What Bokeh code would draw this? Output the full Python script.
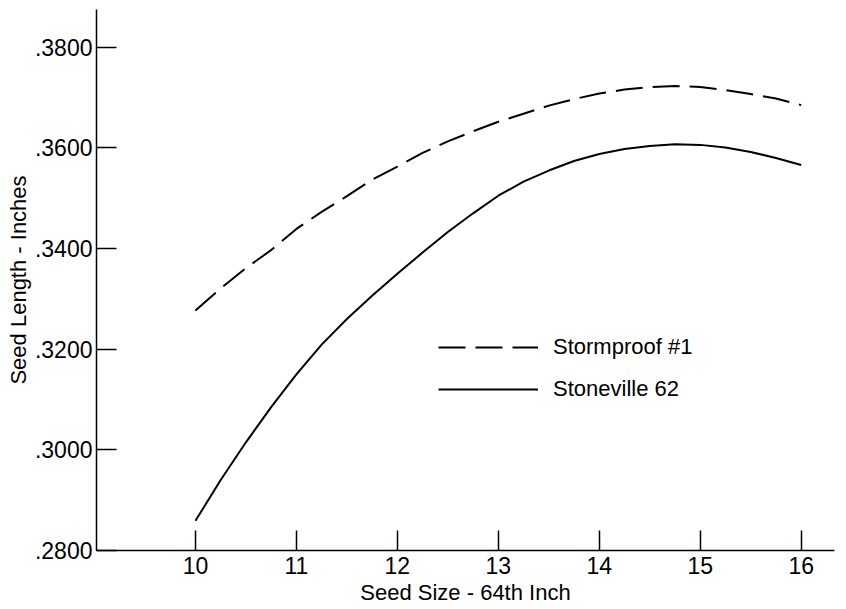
from bokeh.plotting import figure
from bokeh.models import Range1d, FixedTicker, Legend, LegendItem
from bokeh.embed import file_html
from bokeh.resources import INLINE

# Data (seed size in 64ths of an inch, seed length in inches)
seed_size = [10, 10.25, 10.5, 10.75, 11, 11.25, 11.5, 11.75, 12, 12.25, 12.5,
             12.75, 13, 13.25, 13.5, 13.75, 14, 14.25, 14.5, 14.75, 15, 15.25,
             15.5, 15.75, 16]
stormproof = [0.3277, 0.3321, 0.3361, 0.3397, 0.3439, 0.3473, 0.3504, 0.3537,
              0.3563, 0.3590, 0.3613, 0.3633, 0.3652, 0.3668, 0.3684, 0.3697,
              0.3708, 0.3716, 0.3721, 0.3723, 0.3721, 0.3715, 0.3707, 0.3698,
              0.3685]
stoneville = [0.2859, 0.2940, 0.3015, 0.3085, 0.3150, 0.3209, 0.3260, 0.3306,
              0.3350, 0.3392, 0.3433, 0.3470, 0.3505, 0.3533, 0.3555, 0.3574,
              0.3588, 0.3598, 0.3604, 0.3607, 0.3606, 0.3601, 0.3592, 0.3580,
              0.3566]

x_ticks = [10, 11, 12, 13, 14, 15, 16]
y_ticks = [0.28, 0.30, 0.32, 0.34, 0.36, 0.38]
y_tick_labels = [".2800", ".3000", ".3200", ".3400", ".3600", ".3800"]

FONT = "Liberation Sans"

p = figure(width=844, height=607, output_backend="svg", toolbar_location=None,
           x_range=Range1d(9.02, 16.33), y_range=Range1d(0.28, 0.3875),
           min_border_left=96, min_border_right=10, min_border_top=9,
           min_border_bottom=55)
p.outline_line_color = None
p.xgrid.visible = False
p.ygrid.visible = False
p.background_fill_color = "white"

r1 = p.line(seed_size, stormproof, line_color="black", line_width=2,
            line_dash="27 10")
r2 = p.line(seed_size, stoneville, line_color="black", line_width=2)

for ax in (p.xaxis[0], p.yaxis[0]):
    ax.axis_line_color = "black"
    ax.axis_line_width = 1.5
    ax.major_tick_line_color = "black"
    ax.major_tick_line_width = 1.5
    ax.major_tick_in = 20
    ax.major_tick_out = 0
    ax.minor_tick_line_color = None
    ax.major_label_text_font = FONT
    ax.major_label_text_color = "black"
    ax.axis_label_text_font = FONT
    ax.axis_label_text_font_style = "normal"
    ax.axis_label_text_color = "black"

p.xaxis.ticker = FixedTicker(ticks=x_ticks)
p.xaxis.major_label_text_font_size = "23px"
p.xaxis.major_label_standoff = 6
p.xaxis.axis_label = "Seed Size - 64th Inch"
p.xaxis.axis_label_text_font_size = "22px"
p.xaxis.axis_label_standoff = 3

p.yaxis.ticker = FixedTicker(ticks=y_ticks)
p.yaxis.major_label_overrides = dict(zip(y_ticks, y_tick_labels))
p.yaxis.major_label_text_font_size = "23px"
p.yaxis.major_label_standoff = 4
p.yaxis.axis_label = "Seed Length - Inches"
p.yaxis.axis_label_text_font_size = "22px"
p.yaxis.axis_label_standoff = 1

legend = Legend(items=[LegendItem(label="Stormproof #1", renderers=[r1]),
                       LegendItem(label="Stoneville 62", renderers=[r2])],
                location=(342, 146), orientation="vertical",
                glyph_width=100, glyph_height=30, label_height=30,
                label_standoff=15, spacing=12, padding=0, margin=0,
                border_line_color=None, background_fill_alpha=0,
                label_text_font=FONT, label_text_font_size="22px",
                label_text_color="black")
p.add_layout(legend)

open("out.html", "w").write(file_html(p, INLINE))
